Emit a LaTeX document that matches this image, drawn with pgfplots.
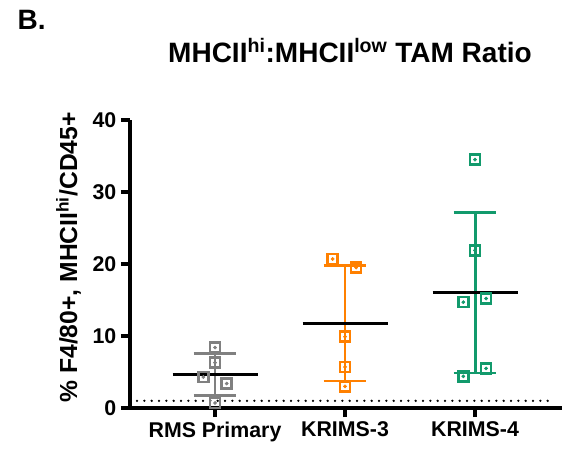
\documentclass[border=0pt]{standalone}
\usepackage{pgfplots}
\pgfplotsset{compat=1.18}
\usepackage{pgfplotstable}
\usepackage{fontspec}
\setmainfont{Liberation Sans}
\usetikzlibrary{calc}
\definecolor{rmsgray}{HTML}{808080}
\definecolor{krorange}{HTML}{FF8000}
\definecolor{krgreen}{HTML}{129A6C}

% individual animals, x = group index + small jitter
\pgfplotstableread{
x y
0.00 8.4
0.00 6.3
-0.09 4.3
0.09 3.4
0.00 0.7
}\rmsdata
\pgfplotstableread{
x y
0.905 20.7
1.085 19.5
1.00 9.9
1.00 5.7
1.00 3.0
}\kthree
\pgfplotstableread{
x y
2.00 34.5
2.00 21.9
1.91 14.7
2.085 15.2
2.085 5.5
1.91 4.4
}\kfour

\begin{document}
\begin{tikzpicture}
\begin{axis}[
  name=ax,
  scale only axis,
  width=324pt, height=216pt,
  xmin=-0.654, xmax=2.669,
  ymin=0, ymax=40,
  axis lines=left,
  axis line style={-, line width=2.4pt},
  every tick/.style={black, line width=2.4pt},
  tick align=outside,
  major tick length=6.75pt,
  xtick={0,1,2},
  xticklabels={RMS Primary, KRIMS-3, KRIMS-4},
  ytick={0,10,20,30,40},
  tick label style={font=\fontsize{16}{18}\selectfont\bfseries},
  /pgf/number format/assume math mode=true,
  clip=false,
]
% dotted reference line at 1
\addplot[black, line width=1.9pt, dash pattern=on 0pt off 5.5pt, line cap=round] coordinates {(-0.6,1) (2.6,1)};

% SD bars
\addplot[rmsgray, line width=2.2pt] coordinates {(0,1.70) (0,7.54)};
\addplot[rmsgray, line width=2.2pt] coordinates {(-0.165,7.54) (0.165,7.54)};
\addplot[rmsgray, line width=2.2pt] coordinates {(-0.165,1.70) (0.165,1.70)};
\addplot[krorange, line width=2.2pt] coordinates {(1,3.75) (1,19.77)};
\addplot[krorange, line width=2.2pt] coordinates {(0.835,19.77) (1.165,19.77)};
\addplot[krorange, line width=2.2pt] coordinates {(0.835,3.75) (1.165,3.75)};
\addplot[krgreen, line width=2.2pt] coordinates {(2,4.86) (2,27.2)};
\addplot[krgreen, line width=2.2pt] coordinates {(1.835,27.2) (2.165,27.2)};
\addplot[krgreen, line width=2.2pt] coordinates {(1.835,4.86) (2.165,4.86)};

% means
\addplot[black, line width=2.2pt] coordinates {(-0.327,4.62) (0.327,4.62)};
\addplot[black, line width=2.2pt] coordinates {(0.673,11.76) (1.327,11.76)};
\addplot[black, line width=2.2pt] coordinates {(1.673,16.03) (2.327,16.03)};

% points
\addplot[only marks, mark=square, mark size=3.75pt, rmsgray, line width=1.9pt] table {\rmsdata};
\addplot[only marks, mark=*, mark size=1.2pt, rmsgray] table {\rmsdata};
\addplot[only marks, mark=square, mark size=3.75pt, krorange, line width=1.9pt] table {\kthree};
\addplot[only marks, mark=*, mark size=1.2pt, krorange] table {\kthree};
\addplot[only marks, mark=square, mark size=3.75pt, krgreen, line width=1.9pt] table {\kfour};
\addplot[only marks, mark=*, mark size=1.2pt, krgreen] table {\kfour};
\end{axis}

\node[anchor=base, font=\fontsize{21}{24}\selectfont\bfseries] at ($(ax.north)+(3pt,42.75pt)$) {MHCII\textsuperscript{hi}:MHCII\textsuperscript{low} TAM Ratio};
\node[anchor=base, rotate=90, font=\fontsize{18.5}{20}\selectfont\bfseries] at ($(ax.south west)+(-39.75pt,113pt)$) {\% F4/80+, MHCII\textsuperscript{hi}/CD45+};
\node[anchor=base west, font=\fontsize{21}{24}\selectfont\bfseries] at ($(ax.south west)+(-87.75pt,283.5pt)$) {B.};
\pgfresetboundingbox
\path[use as bounding box] ($(ax.south west)+(-97.5pt,-30.75pt)$) rectangle ($(ax.south west)+(330pt,306pt)$);
\end{tikzpicture}
\end{document}
